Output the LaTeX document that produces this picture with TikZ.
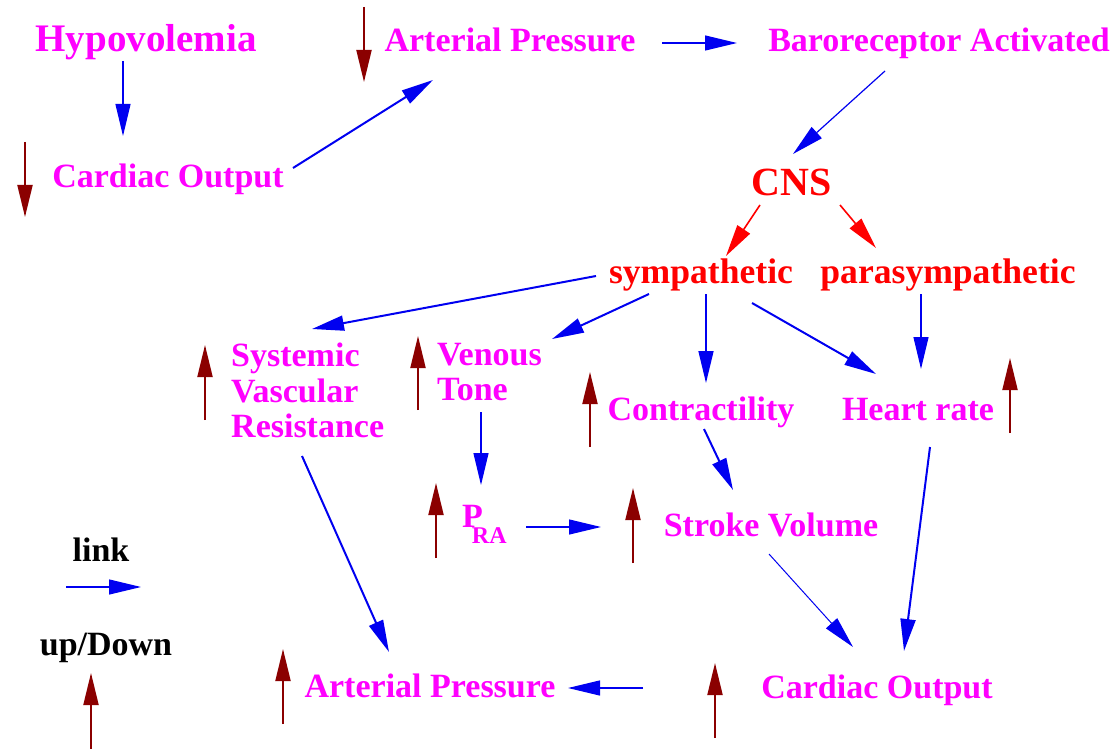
\documentclass[tikz,border=0pt]{standalone}
\usepackage{fontspec}
\setmainfont{Liberation Serif}
\usepackage{tikz}
\usetikzlibrary{arrows.meta}
\definecolor{darkred}{RGB}{139,0,0}
\definecolor{pinkish}{RGB}{255,0,255}
\definecolor{nervered}{RGB}{255,0,0}
\definecolor{linkblue}{RGB}{0,0,240}

\begin{document}
\begin{tikzpicture}[
    x=1pt, y=-1pt,
    >={Triangle[length=32pt,width=15pt]},
    lbl/.style={
        text=pinkish,
        inner sep=0pt,
        anchor=base,
        font=\bfseries\fontsize{34}{35.5}\selectfont
    },
    multi/.style={lbl, anchor=north west, align=left},
    nerve/.style={lbl, text=nervered, font=\bfseries\fontsize{35.6}{38}\selectfont},
    legend/.style={lbl, text=black},
    link/.style={->, linkblue, line width=1.2pt},
    linkb/.style={link, line width=2pt},
    sig/.style={->, nervered, line width=1.6pt},
    updn/.style={->, darkred, line width=2pt}
]
\useasboundingbox (0,0) rectangle (1117,749);

% labels
\node[lbl, font=\bfseries\fontsize{39}{40}\selectfont] (hypo) at (146,52) {Hypovolemia};
\node[lbl] (ap1) at (510,52) {Arterial Pressure};
\node[lbl] (baro) at (939,52) {Baroreceptor Activated};
\node[lbl] (co1) at (168,187) {Cardiac Output};
\node[nerve, font=\bfseries\fontsize{40}{42}\selectfont] (cns) at (792,196) {CNS};
\node[nerve] (symp) at (701,283) {sympathetic};
\node[nerve] (para) at (948,283) {parasympathetic};
\node[multi] (svr) at (231,343) {Systemic\\Vascular\\Resistance};
\node[multi] (vt) at (437,343) {Venous\\Tone};
\node[lbl] (contr) at (701,420) {Contractility};
\node[lbl] (hr) at (918,420) {Heart rate};
\node[lbl, anchor=base west] (pra) at (462,527)
    {P\kern-11pt\raisebox{-16pt}{\fontsize{24}{24}\selectfont RA}};
\node[lbl] (sv) at (771,536) {Stroke Volume};
\node[lbl] (ap2) at (430,697) {Arterial Pressure};
\node[lbl] (co2) at (877,698) {Cardiac Output};
\node[legend] (lnk) at (101,561) {link};
\node[legend] (ud) at (106,655) {up/Down};

% links
\draw[link] ([shift={(-23,9)}]hypo.base) -- ([shift={(-45,-51)}]co1.base);
\draw[linkb] ([shift={(125,-19)}]co1.base) -- ([shift={(-77,28)}]ap1.base);
\draw[link] ([shift={(152,-9)}]ap1.base) -- ([shift={(-202,-9)}]baro.base);
\draw[link] ([shift={(-54,19)}]baro.base) -- ([shift={(1,-42)}]cns.base);
\draw[sig] ([shift={(-32,9)}]cns.base) -- ([shift={(25,-27)}]symp.base);
\draw[sig] ([shift={(48,9)}]cns.base) -- ([shift={(-72,-35)}]para.base);
\draw[linkb] ([shift={(-105,-7)}]symp.base) -- ([shift={(81,-14)}]svr.north west);
\draw[linkb] ([shift={(-52,11)}]symp.base) -- ([shift={(115,-4)}]vt.north west);
\draw[link, line width=1.6pt] ([shift={(5,11)}]symp.base) -- ([shift={(5,-37)}]contr.base);
\draw[linkb] ([shift={(51,20)}]symp.base) -- ([shift={(-42,-46)}]hr.base);
\draw[link] ([shift={(-27,11)}]para.base) -- ([shift={(3,-51)}]hr.base);
\draw[link] ([shift={(44,69)}]vt.north west) -- ([shift={(19,-42)}]pra.base west);
\draw[link] ([shift={(64,0)}]pra.base west) -- ([shift={(-170,-9)}]sv.base);
\draw[linkb] ([shift={(3,9)}]contr.base) -- ([shift={(-38,-46)}]sv.base);
\draw[linkb] ([shift={(71,113)}]svr.north west) -- ([shift={(-41,-45)}]ap2.base);
\draw[link, line width=1pt] ([shift={(-2,18)}]sv.base) -- ([shift={(-24,-51)}]co2.base);
\draw[linkb] ([shift={(12,27)}]hr.base) -- ([shift={(27,-47)}]co2.base);
\draw[link] ([shift={(-234,-10)}]co2.base) -- ([shift={(138,-9)}]ap2.base);
\draw[link] ([shift={(-35,26)}]lnk.base) -- ([shift={(40,26)}]lnk.base);

% up / down marks
\draw[updn] (25,142) -- (25,217);
\draw[updn] (364,7) -- (364,82);
\draw[updn] (205,420) -- (205,345);
\draw[updn] (418,410) -- (418,336);
\draw[updn] (590,447) -- (590,372);
\draw[updn] (1010,433) -- (1010,358);
\draw[updn] (436,558) -- (436,483);
\draw[updn] (633,563) -- (633,488);
\draw[updn] (283,724) -- (283,649);
\draw[updn] (715,738) -- (715,663);
\draw[updn] (91,749) -- (91,673);
\end{tikzpicture}
\end{document}
